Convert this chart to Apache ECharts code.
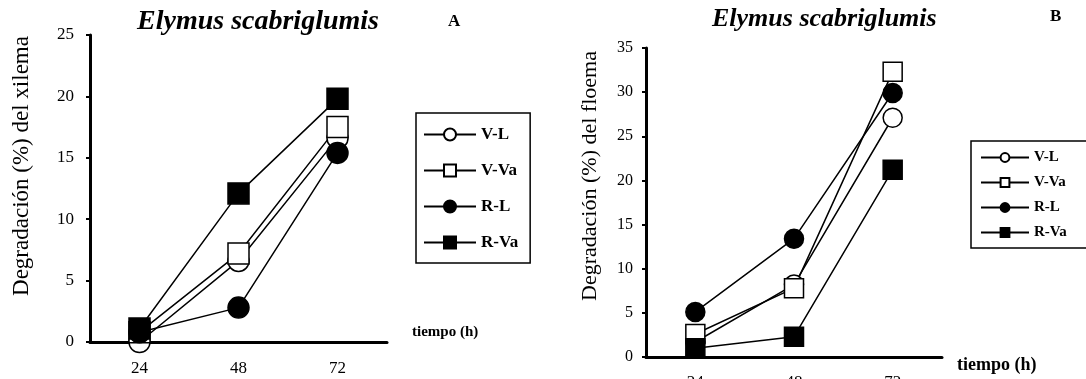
<!DOCTYPE html>
<html><head><meta charset="utf-8">
<script src="https://cdn.jsdelivr.net/npm/echarts@6/dist/echarts.min.js"></script>
<style>
html,body{margin:0;padding:0;background:#fff;}
#wrap{width:1086px;height:379px;position:relative;overflow:hidden;}
#a{position:absolute;left:0;top:0;width:543px;height:379px;}
#b{position:absolute;left:543px;top:0;width:543px;height:379px;}
</style></head>
<body><div id="wrap"><div id="a"></div><div id="b"></div></div>
<script>
// Data
const categories = ['24', '48', '72'];
const seriesNames = ['V-L', 'V-Va', 'R-L', 'R-Va'];
// Panel A: xylem degradation (%)
const xilemaVL  = [0.0, 6.6, 16.6];
const xilemaVVa = [0.8, 7.2, 17.5];
const xilemaRL  = [0.8, 2.8, 15.4];
const xilemaRVa = [1.1, 12.1, 19.8];
// Panel B: phloem degradation (%)
const floemaVL  = [1.7, 8.2, 27.1];
const floemaVVa = [2.6, 7.8, 32.3];
const floemaRL  = [5.1, 13.4, 29.9];
const floemaRVa = [1.0, 2.3, 21.2];

const titleText = 'Elymus scabriglumis';
const serif = '"Liberation Serif","DejaVu Serif",serif';

const styles = [
  {symbol: 'circle', fill: '#fff'},
  {symbol: 'rect', fill: '#fff'},
  {symbol: 'circle', fill: '#000'},
  {symbol: 'rect', fill: '#000'}
];

function build(cfg) {
  const data = cfg.data;
  return {
    animation: false,
    backgroundColor: '#fff',
    graphic: [
      {type: 'text', left: cfg.titleX, top: cfg.titleY, style: {text: titleText, font: 'italic bold ' + cfg.titleSize + 'px ' + serif, fill: '#000'}},
      {type: 'text', left: cfg.letterX, top: cfg.letterY, style: {text: cfg.letter, font: 'bold 17px ' + serif, fill: '#000'}},
      {type: 'text', left: cfg.timeX, top: cfg.timeY, style: {text: 'tiempo (h)', font: 'bold ' + cfg.timeSize + 'px ' + serif, fill: '#000'}},
      {type: 'text', x: cfg.ynameX, y: cfg.ynameY, rotation: Math.PI / 2,
       style: {text: cfg.yname, font: cfg.ynameSize + 'px ' + serif, fill: '#000', align: 'center', verticalAlign: 'middle'}}
    ],
    legend: {
      orient: 'vertical',
      left: cfg.legLeft, top: cfg.legTop,
      data: seriesNames,
      itemWidth: cfg.legItemW, itemHeight: cfg.legItemH, itemGap: cfg.legGap,
      padding: cfg.legPad,
      borderColor: '#000', borderWidth: 1.5,
      textStyle: {fontFamily: serif, fontWeight: 'bold', fontSize: cfg.legFont, color: '#000'},
      selectedMode: false
    },
    grid: {left: cfg.gLeft, top: cfg.gTop, width: cfg.gW, height: cfg.gH, containLabel: false, outerBoundsMode: 'none'},
    xAxis: {
      type: 'category', data: categories, boundaryGap: true,
      axisLine: {lineStyle: {color: '#000', width: 3}},
      axisTick: {alignWithLabel: true, length: 8, lineStyle: {color: '#000', width: 1.2}},
      axisLabel: {fontFamily: serif, fontSize: cfg.xLabSize, color: '#000', margin: cfg.xLabMargin}
    },
    yAxis: {
      type: 'value', min: 0, max: cfg.ymax, interval: 5,
      splitLine: {show: false},
      axisLine: {show: true, lineStyle: {color: '#000', width: 3}},
      axisTick: {show: true, length: 4, lineStyle: {color: '#000', width: 2}},
      axisLabel: {fontFamily: serif, fontSize: cfg.yLabSize, color: '#000', margin: cfg.yLabMargin}
    },
    series: seriesNames.map((n, i) => ({
      name: n, type: 'line', data: data[i],
      symbol: styles[i].symbol, symbolSize: cfg.symSize,
      showAllSymbol: true,
      lineStyle: {color: '#000', width: 1.5},
      itemStyle: {color: styles[i].fill, borderColor: '#000', borderWidth: 1.5, opacity: 1}
    }))
  };
}

const chartA = echarts.init(document.getElementById('a'));
chartA.setOption(build({
  data: [xilemaVL, xilemaVVa, xilemaRL, xilemaRVa],
  titleX: 137, titleY: 8, titleSize: 28,
  letter: 'A', letterX: 448, letterY: 13,
  timeX: 412, timeY: 325, timeSize: 15,
  yname: 'Degradación (%) del xilema', ynameX: 22, ynameY: 166, ynameSize: 23,
  legLeft: 416, legTop: 113, legItemW: 52, legItemH: 15, legGap: 19,
  legPad: [13, 12, 12, 7], legFont: 17,
  gLeft: 90, gTop: 35, gW: 297, gH: 307, ymax: 25,
  xLabSize: 17, xLabMargin: 18, yLabSize: 17, yLabMargin: 16, symSize: 21
}));

const chartB = echarts.init(document.getElementById('b'));
chartB.setOption(build({
  data: [floemaVL, floemaVVa, floemaRL, floemaRVa],
  titleX: 712 - 543, titleY: 6, titleSize: 26,
  letter: 'B', letterX: 1050 - 543, letterY: 8,
  timeX: 957 - 543, timeY: 356, timeSize: 18,
  yname: 'Degradación (%) del floema', ynameX: 590 - 543, ynameY: 176, ynameSize: 22,
  legLeft: 971 - 543, legTop: 141, legItemW: 48, legItemH: 11, legGap: 10,
  legPad: [9, 40, 8, 9], legFont: 15,
  gLeft: 646 - 543, gTop: 48, gW: 296, gH: 309, ymax: 35,
  xLabSize: 17, xLabMargin: 17, yLabSize: 16, yLabMargin: 13, symSize: 19
}));
</script></body></html>
